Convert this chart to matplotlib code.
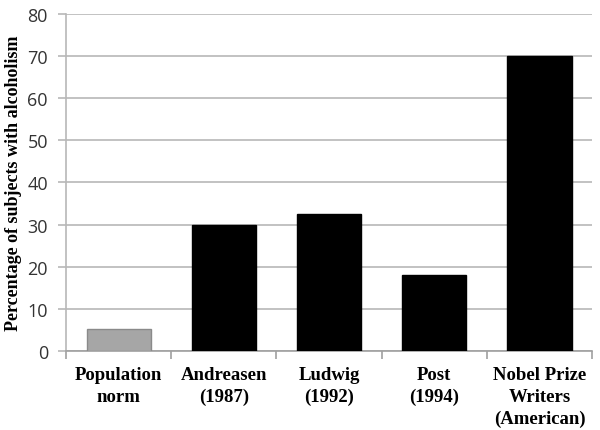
import matplotlib.pyplot as plt
import numpy as np

# data
categories = ["Population\nnorm", "Andreasen\n(1987)", "Ludwig\n(1992)",
              "Post\n(1994)", "Nobel Prize\nWriters\n(American)"]
values = [5.3, 30, 32.5, 18, 70]
colors = ["#a6a6a6", "black", "black", "black", "black"]
edges = ["#8a8a8a", "black", "black", "black", "black"]
yticks = [0, 10, 20, 30, 40, 50, 60, 70, 80]

fig = plt.figure(figsize=(6, 4.31), dpi=100)
ax = fig.add_axes([0.11, 0.1833, 0.877, 0.782])

x = np.arange(len(categories))
ax.bar(x, values, width=0.61, color=colors, edgecolor=edges, linewidth=1, zorder=3)

ax.set_xlim(-0.5, len(categories) - 0.5)
ax.set_ylim(0, 80)
ax.set_yticks(yticks)
ax.yaxis.grid(True, color="#b8b8b8", linewidth=1.2, zorder=0)

# category labels in serif bold, tick marks between categories
ax.set_xticks(x)
ax.set_xticklabels(categories, family="Liberation Serif", fontweight="bold",
                   fontsize=13.5, linespacing=1.35)
ax.tick_params(axis="x", which="major", length=0, pad=11)
ax.set_xticks(np.arange(-0.5, len(categories)), minor=True)
ax.tick_params(axis="x", which="minor", length=6, color="#a0a0a0", width=1.2)

ax.tick_params(axis="y", length=6, color="#b8b8b8", width=1.2,
               labelsize=13, labelcolor="#333333", pad=7)
for lab in ax.get_yticklabels():
    lab.set_family("Open Sans")

ax.set_ylabel("Percentage of subjects with alcoholism", family="Liberation Serif",
              fontweight="bold", fontsize=13, labelpad=4)

for side in ["top", "right"]:
    ax.spines[side].set_visible(False)
ax.spines["left"].set_color("#b8b8b8")
ax.spines["bottom"].set_color("#a0a0a0")
ax.spines["left"].set_linewidth(1.2)
ax.spines["bottom"].set_linewidth(1.2)

plt.savefig("out.png", dpi=100)
